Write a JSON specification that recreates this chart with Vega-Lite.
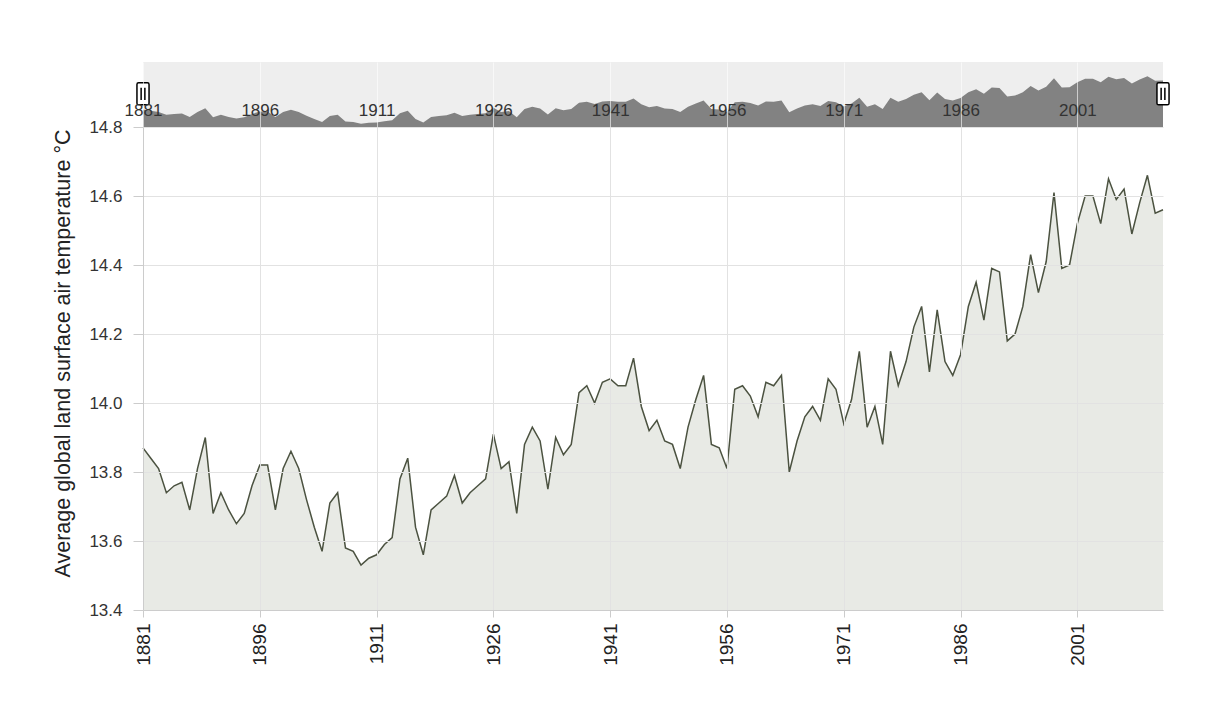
{
  "$schema": "https://vega.github.io/schema/vega-lite/v6.json",
  "padding": {"left": 52, "top": 62, "right": 5, "bottom": 5},
  "background": "white",
  "bounds": "flush",
  "spacing": 0,
  "config": {"font": "Liberation Sans", "view": {"stroke": null}},
  "datasets": {
    "temps": [
      {"year": 1881, "temp": 13.87}, {"year": 1882, "temp": 13.84}, {"year": 1883, "temp": 13.81}, {"year": 1884, "temp": 13.74},
      {"year": 1885, "temp": 13.76}, {"year": 1886, "temp": 13.77}, {"year": 1887, "temp": 13.69}, {"year": 1888, "temp": 13.81},
      {"year": 1889, "temp": 13.90}, {"year": 1890, "temp": 13.68}, {"year": 1891, "temp": 13.74}, {"year": 1892, "temp": 13.69},
      {"year": 1893, "temp": 13.65}, {"year": 1894, "temp": 13.68}, {"year": 1895, "temp": 13.76}, {"year": 1896, "temp": 13.82},
      {"year": 1897, "temp": 13.82}, {"year": 1898, "temp": 13.69}, {"year": 1899, "temp": 13.81}, {"year": 1900, "temp": 13.86},
      {"year": 1901, "temp": 13.81}, {"year": 1902, "temp": 13.72}, {"year": 1903, "temp": 13.64}, {"year": 1904, "temp": 13.57},
      {"year": 1905, "temp": 13.71}, {"year": 1906, "temp": 13.74}, {"year": 1907, "temp": 13.58}, {"year": 1908, "temp": 13.57},
      {"year": 1909, "temp": 13.53}, {"year": 1910, "temp": 13.55}, {"year": 1911, "temp": 13.56}, {"year": 1912, "temp": 13.59},
      {"year": 1913, "temp": 13.61}, {"year": 1914, "temp": 13.78}, {"year": 1915, "temp": 13.84}, {"year": 1916, "temp": 13.64},
      {"year": 1917, "temp": 13.56}, {"year": 1918, "temp": 13.69}, {"year": 1919, "temp": 13.71}, {"year": 1920, "temp": 13.73},
      {"year": 1921, "temp": 13.79}, {"year": 1922, "temp": 13.71}, {"year": 1923, "temp": 13.74}, {"year": 1924, "temp": 13.76},
      {"year": 1925, "temp": 13.78}, {"year": 1926, "temp": 13.91}, {"year": 1927, "temp": 13.81}, {"year": 1928, "temp": 13.83},
      {"year": 1929, "temp": 13.68}, {"year": 1930, "temp": 13.88}, {"year": 1931, "temp": 13.93}, {"year": 1932, "temp": 13.89},
      {"year": 1933, "temp": 13.75}, {"year": 1934, "temp": 13.90}, {"year": 1935, "temp": 13.85}, {"year": 1936, "temp": 13.88},
      {"year": 1937, "temp": 14.03}, {"year": 1938, "temp": 14.05}, {"year": 1939, "temp": 14.00}, {"year": 1940, "temp": 14.06},
      {"year": 1941, "temp": 14.07}, {"year": 1942, "temp": 14.05}, {"year": 1943, "temp": 14.05}, {"year": 1944, "temp": 14.13},
      {"year": 1945, "temp": 13.99}, {"year": 1946, "temp": 13.92}, {"year": 1947, "temp": 13.95}, {"year": 1948, "temp": 13.89},
      {"year": 1949, "temp": 13.88}, {"year": 1950, "temp": 13.81}, {"year": 1951, "temp": 13.93}, {"year": 1952, "temp": 14.01},
      {"year": 1953, "temp": 14.08}, {"year": 1954, "temp": 13.88}, {"year": 1955, "temp": 13.87}, {"year": 1956, "temp": 13.81},
      {"year": 1957, "temp": 14.04}, {"year": 1958, "temp": 14.05}, {"year": 1959, "temp": 14.02}, {"year": 1960, "temp": 13.96},
      {"year": 1961, "temp": 14.06}, {"year": 1962, "temp": 14.05}, {"year": 1963, "temp": 14.08}, {"year": 1964, "temp": 13.80},
      {"year": 1965, "temp": 13.89}, {"year": 1966, "temp": 13.96}, {"year": 1967, "temp": 13.99}, {"year": 1968, "temp": 13.95},
      {"year": 1969, "temp": 14.07}, {"year": 1970, "temp": 14.04}, {"year": 1971, "temp": 13.94}, {"year": 1972, "temp": 14.01},
      {"year": 1973, "temp": 14.15}, {"year": 1974, "temp": 13.93}, {"year": 1975, "temp": 13.99}, {"year": 1976, "temp": 13.88},
      {"year": 1977, "temp": 14.15}, {"year": 1978, "temp": 14.05}, {"year": 1979, "temp": 14.12}, {"year": 1980, "temp": 14.22},
      {"year": 1981, "temp": 14.28}, {"year": 1982, "temp": 14.09}, {"year": 1983, "temp": 14.27}, {"year": 1984, "temp": 14.12},
      {"year": 1985, "temp": 14.08}, {"year": 1986, "temp": 14.14}, {"year": 1987, "temp": 14.28}, {"year": 1988, "temp": 14.35},
      {"year": 1989, "temp": 14.24}, {"year": 1990, "temp": 14.39}, {"year": 1991, "temp": 14.38}, {"year": 1992, "temp": 14.18},
      {"year": 1993, "temp": 14.20}, {"year": 1994, "temp": 14.28}, {"year": 1995, "temp": 14.43}, {"year": 1996, "temp": 14.32},
      {"year": 1997, "temp": 14.41}, {"year": 1998, "temp": 14.61}, {"year": 1999, "temp": 14.39}, {"year": 2000, "temp": 14.40},
      {"year": 2001, "temp": 14.52}, {"year": 2002, "temp": 14.60}, {"year": 2003, "temp": 14.60}, {"year": 2004, "temp": 14.52},
      {"year": 2005, "temp": 14.65}, {"year": 2006, "temp": 14.59}, {"year": 2007, "temp": 14.62}, {"year": 2008, "temp": 14.49},
      {"year": 2009, "temp": 14.58}, {"year": 2010, "temp": 14.66}, {"year": 2011, "temp": 14.55}, {"year": 2012, "temp": 14.56}
    ],
    "handles": [{"year": 1881}, {"year": 2012}]
  },
  "vconcat": [
    {
      "width": 1020,
      "height": 65,
      "view": {"fill": "#eeeeee", "stroke": null},
      "layer": [
        {
          "data": {"name": "temps"},
          "mark": {"type": "area", "color": "#828282"},
          "encoding": {
            "x": {
              "field": "year", "type": "quantitative",
              "scale": {"domain": [1881, 2012], "nice": false, "zero": false},
              "axis": {
                "values": [1881, 1896, 1911, 1926, 1941, 1956, 1971, 1986, 2001],
                "format": "d", "title": null, "grid": true, "gridColor": "white", "gridOpacity": 0.6,
                "zindex": 1, "domain": false, "ticks": false, "labelPadding": -25,
                "labelFontSize": 17, "labelColor": "#333333", "labelFlush": false, "labelOverlap": false
              }
            },
            "y": {
              "field": "temp", "type": "quantitative",
              "scale": {"domain": [13.45, 15.0], "zero": false, "nice": false},
              "axis": null
            },
            "y2": {"datum": 13.45}
          }
        },
        {
          "data": {"name": "handles"},
          "mark": {
            "type": "point",
            "shape": "M-0.4,-1H0.4Q0.55,-1 0.55,-0.85V0.85Q0.55,1 0.4,1H-0.4Q-0.55,1 -0.55,0.85V-0.85Q-0.55,-1 -0.4,-1Z M-0.17,-0.55V0.55 M0.17,-0.55V0.55",
            "size": 484, "filled": false, "fill": "white", "fillOpacity": 1, "stroke": "black", "strokeWidth": 1.5, "opacity": 1
          },
          "encoding": {
            "x": {"field": "year", "type": "quantitative"},
            "y": {"datum": 14.24, "type": "quantitative"}
          }
        }
      ]
    },
    {
      "width": 1020,
      "height": 483,
      "data": {"name": "temps"},
      "encoding": {
        "x": {
          "field": "year", "type": "quantitative",
          "scale": {"domain": [1881, 2012], "nice": false, "zero": false},
          "axis": {
            "values": [1881, 1896, 1911, 1926, 1941, 1956, 1971, 1986, 2001],
            "format": "d", "title": null, "labelAngle": -90, "labelFlush": false, "labelOverlap": false,
            "grid": true, "gridColor": "#e2e2e2", "zindex": 1,
            "domainColor": "#cccccc", "tickColor": "#cccccc", "tickSize": 7,
            "labelFontSize": 19, "labelColor": "#222222", "labelPadding": 6
          }
        },
        "y": {
          "field": "temp", "type": "quantitative",
          "scale": {"domain": [13.4, 14.8], "zero": false, "nice": false},
          "axis": {
            "values": [13.4, 13.6, 13.8, 14.0, 14.2, 14.4, 14.6, 14.8],
            "format": ".1f",
            "title": "Average global land surface air temperature °C",
            "titleFontSize": 21.5, "titleFontWeight": "normal", "titleColor": "#222222", "titlePadding": 14,
            "titleY": 226,
            "labelFontSize": 17, "labelColor": "#333333", "labelPadding": 11,
            "tickSize": 10, "tickColor": "#cccccc", "domainColor": "#cccccc",
            "grid": true, "gridColor": "#e2e2e2", "zindex": 1
          }
        }
      },
      "layer": [
        {"mark": {"type": "area", "color": "#e8eae5"}, "encoding": {"y2": {"datum": 13.4}}},
        {"mark": {"type": "line", "color": "#4b5240", "strokeWidth": 1.5}}
      ]
    }
  ]
}
